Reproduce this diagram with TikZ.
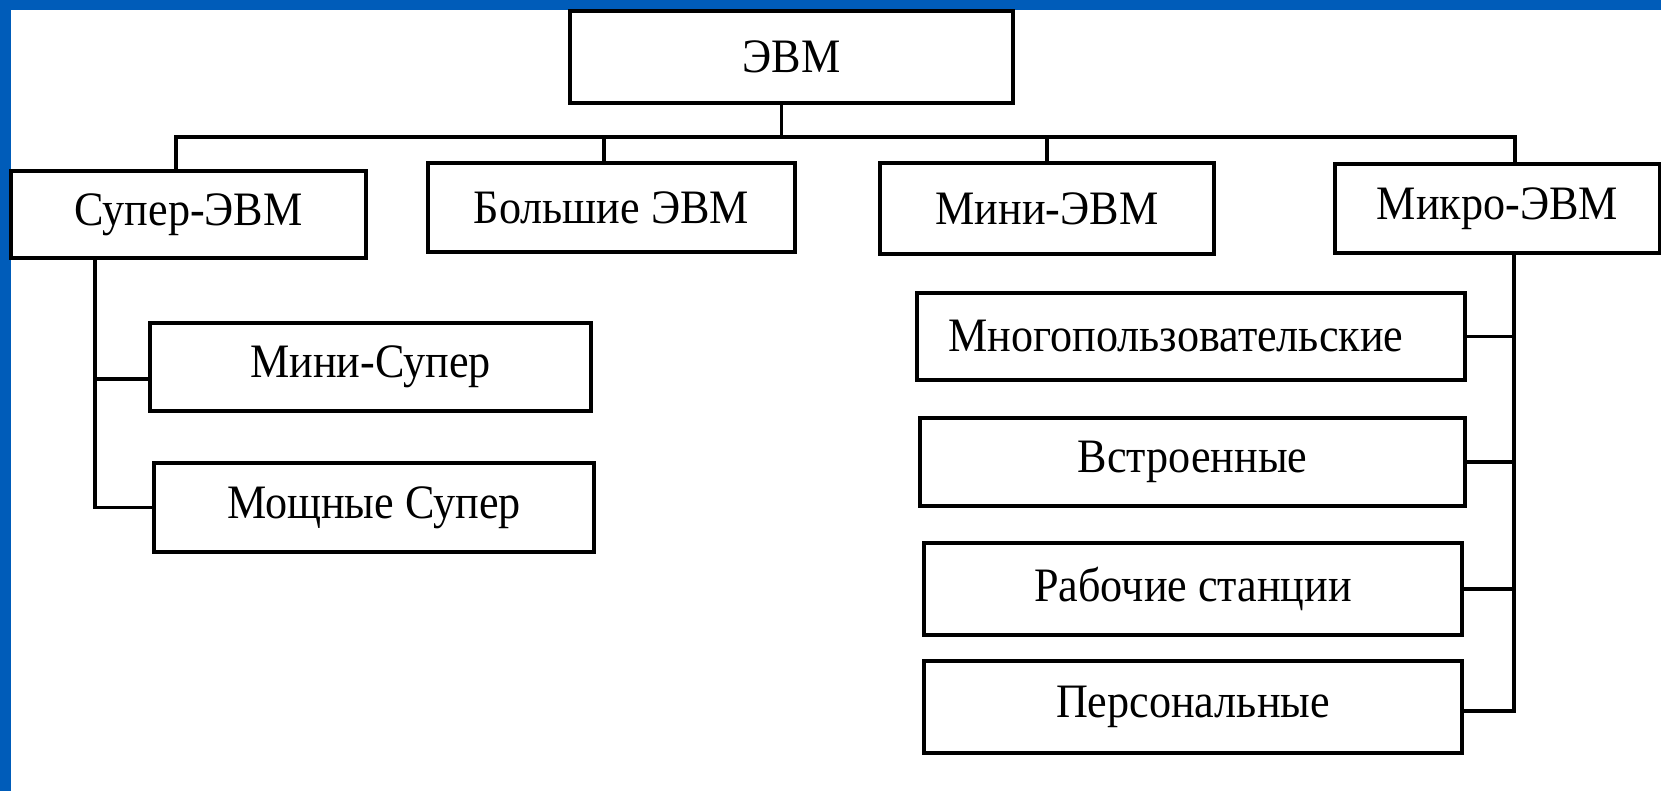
\documentclass[tikz,border=0pt]{standalone}
\usepackage{fontspec}
\setmainfont[FakeStretch=0.92]{Liberation Serif}
\definecolor{frameblue}{RGB}{0,92,185}
\begin{document}
\begin{tikzpicture}[x=0.5pt,y=-0.5pt,
  bx/.style 2 args={draw, line width=1.9pt, fill=white, inner sep=0pt,
    minimum width=#1, minimum height=#2, font=\fontsize{24}{28}\selectfont},
  wire/.style={line width=1.7pt}]
\useasboundingbox (0,0) rectangle (1661,791);
\fill[white] (0,0) rectangle (1661,791);
\fill[frameblue] (0,0) rectangle (1661,10);
\fill[frameblue] (0,0) rectangle (11,791);

\node[bx={221.5pt}{46pt}] (top) at (791.5,57) {ЭВМ};
\node[bx={177.5pt}{43.5pt}] (super) at (188.5,214.5) {Супер-ЭВМ};
\node[bx={183.5pt}{44.5pt}] (big) at (611.5,207.5) {Большие ЭВМ};
\node[bx={167pt}{45.5pt}] (mini) at (1047,208.5) {Мини-ЭВМ};
\node[bx={162.5pt}{44.5pt}] (micro) at (1497.5,208.5) {Микро-ЭВМ};
\node[bx={220.5pt}{44pt}] (minisup) at (370.5,367) {Мини-Супер};
\node[bx={220pt}{44.5pt}] (moshch) at (374,507.5) {Мощные Супер};
\node[bx={274pt}{43.5pt}] (multi) at (1191,336.5) {\hspace*{-15pt}Многопользовательские};
\node[bx={272.5pt}{44pt}] (embed) at (1192.5,462) {Встроенные};
\node[bx={269pt}{46pt}] (work) at (1193,589) {Рабочие станции};
\node[bx={269pt}{46pt}] (pers) at (1193,707) {Персональные};

\coordinate (busL) at (176,137);
\coordinate (busR) at (1515,137);
\coordinate (lvx) at (95,0);
\coordinate (rvx) at (1514,0);

\draw[wire] ([xshift=-5pt]top.south) -- ([xshift=-5pt]top.south |- busL);
\draw[wire] (super.north -| busL) -- (busL) -- (busR) -- (micro.north -| busR);
\draw[wire] ([xshift=-3.75pt]big.north) -- ([xshift=-3.75pt]big.north |- busL);
\draw[wire] (mini.north) -- (mini.north |- busL);

\draw[wire] (super.south -| lvx) -- (moshch.west -| lvx) -- (moshch.west);
\draw[wire] ([yshift=-6pt]minisup.west -| lvx) -- ([yshift=-6pt]minisup.west);

\draw[wire] (micro.south -| rvx) -- ([yshift=-2pt]pers.east -| rvx) -- ([yshift=-2pt]pers.east);
\draw[wire] (multi.east -| rvx) -- (multi.east);
\draw[wire] (embed.east -| rvx) -- (embed.east);
\draw[wire] (work.east -| rvx) -- (work.east);
\end{tikzpicture}
\end{document}
